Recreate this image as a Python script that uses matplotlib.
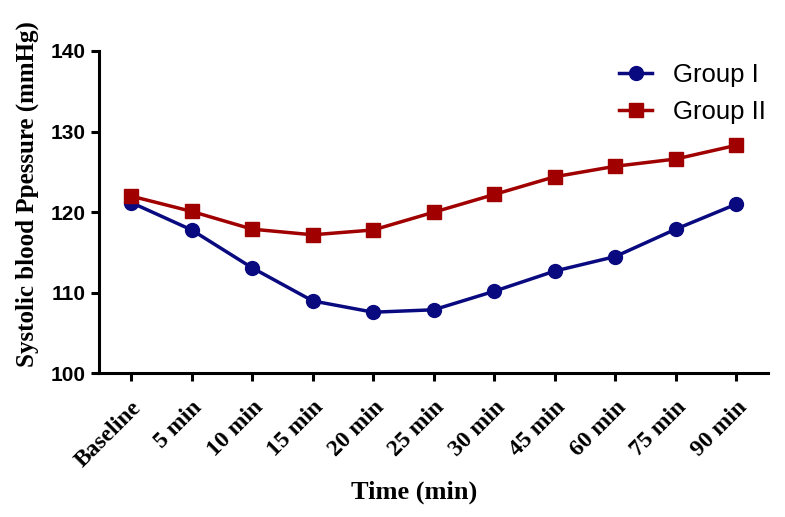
import matplotlib
matplotlib.use('Agg')
import matplotlib.pyplot as plt

# data
times = ['Baseline', '5 min', '10 min', '15 min', '20 min', '25 min',
         '30 min', '45 min', '60 min', '75 min', '90 min']
group1 = [121.2, 117.8, 113.1, 109.0, 107.6, 107.9, 110.2, 112.7, 114.5, 117.9, 121.0]
group2 = [122.0, 120.1, 117.9, 117.2, 117.8, 120.0, 122.2, 124.4, 125.7, 126.6, 128.3]

serif = ['Liberation Serif', 'DejaVu Serif']
sans = ['Liberation Sans', 'DejaVu Sans']

fig = plt.figure(figsize=(7.85, 5.17), dpi=100)
ax = fig.add_axes([0.1255, 0.2776, 0.8525, 0.6238])

x = list(range(len(times)))
ax.plot(x, group1, color='#0a0a80', marker='o', markersize=10, linewidth=2.5, label='Group I')
ax.plot(x, group2, color='#a00000', marker='s', markersize=10, linewidth=2.5, label='Group II')

ax.set_xlim(-0.54, 10.52)
ax.set_ylim(100, 140)
ax.set_yticks([100, 110, 120, 130, 140])
ax.set_xticks(x)
ax.set_xticklabels(times, rotation=45, ha='right', rotation_mode='anchor',
                   family=serif, fontweight='bold', fontsize=17)
for t in ax.get_yticklabels():
    t.set_family(sans)
    t.set_fontweight('bold')
    t.set_fontsize(15)

for s in ['top', 'right']:
    ax.spines[s].set_visible(False)
for s in ['left', 'bottom']:
    ax.spines[s].set_linewidth(2.2)
ax.tick_params(direction='out', length=6, width=2.2, pad=3)
ax.tick_params(axis='x', pad=11)

ax.set_ylabel('Systolic blood Ppessure (mmHg)', family=serif, fontweight='bold', fontsize=18)
ax.yaxis.set_label_coords(-0.089, 0.557)
ax.set_xlabel('Time (min)', family=serif, fontweight='bold', fontsize=19)
ax.xaxis.set_label_coords(0.471, -0.333)

ax.legend(loc='center left', bbox_to_anchor=(0.7625, 0.868), borderaxespad=0, frameon=False,
          prop={'family': sans, 'size': 18.5}, handlelength=1.3, handletextpad=0.8,
          labelspacing=0.5)

plt.savefig('out.png', dpi=100)
plt.close()
